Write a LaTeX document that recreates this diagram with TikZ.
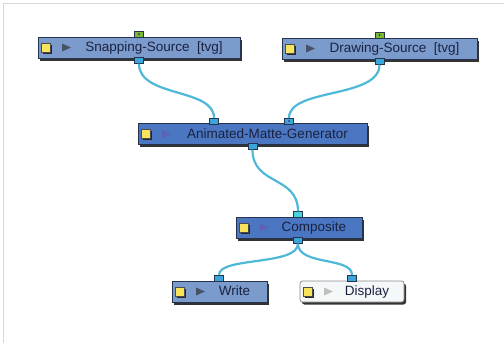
\documentclass[tikz,border=0pt]{standalone}
\usepackage{fontspec}
\setmainfont{Liberation Sans}
\usetikzlibrary{shadows}

\definecolor{liteblue}{HTML}{7B9BCC}
\definecolor{darkblue}{HTML}{4A76C2}
\definecolor{offwhite}{HTML}{F4F8F8}
\definecolor{boxedge}{HTML}{26334D}
\definecolor{textnavy}{HTML}{1B2240}
\definecolor{lampyellow}{HTML}{F8E45A}
\definecolor{portblue}{HTML}{3AA6DC}
\definecolor{portgreen}{HTML}{7AB833}
\definecolor{portcyan}{HTML}{46D4DC}
\definecolor{wireblue}{HTML}{4DB8D8}
\definecolor{frame}{HTML}{D8D8D8}

\begin{document}
\begin{tikzpicture}[
x=1pt, y=-1pt,
nodebox/.style={draw=boxedge, line width=0.8pt, minimum height=21pt, inner sep=0pt,
  font=\fontsize{13.5}{15}\selectfont, text=textnavy, text height=10.2pt, text depth=1.6pt,
  drop shadow={shadow xshift=2pt, shadow yshift=-2.5pt, fill=black!80, opacity=1},
  path picture={
    \begin{scope}[sharp corners]
    \fill[black!85] ([xshift=4.5pt,yshift=-6pt]path picture bounding box.west) rectangle ++(9pt,9pt);
    \filldraw[fill=lampyellow, draw=black!70, line width=0.4pt] ([xshift=3pt,yshift=-4.5pt]path picture bounding box.west) rectangle ++(9pt,9pt);
    \fill[#1] ([xshift=24pt,yshift=4pt]path picture bounding box.west) -- ++(9pt,-4pt) -- ++(-9pt,-4pt) -- cycle;
    \end{scope}
  }},
litebox/.style={nodebox=boxedge!85, fill=liteblue},
darkbox/.style={nodebox=boxedge!60!blue!70, fill=darkblue},
offbox/.style={nodebox=black!25, fill=offwhite, draw=black!45, rounded corners=2.5pt},
port/.style={draw=boxedge, fill=portblue, line width=0.6pt, minimum width=9pt, minimum height=6pt, inner sep=0pt},
gport/.style={port, fill=portgreen},
cport/.style={port, fill=portcyan},
dotport/.style={path picture={\fill[boxedge] (path picture bounding box.center) circle (0.9pt);}},
wire/.style={draw=wireblue, line width=2.2pt}
]
\useasboundingbox (0,0) rectangle (504,343);
\draw[frame, line width=1.8pt] (3.5,343) -- (3.5,3.5) -- (504,3.5);

% nodes
\node[litebox, minimum width=202pt] (snap) at (139,47.5) {\hspace*{30pt}Snapping-Source\ \ [tvg]};
\node[litebox, minimum width=195pt] (draw) at (379.5,48.5) {\hspace*{30pt}Drawing-Source\ \ [tvg]};
\node[darkbox, minimum width=229pt] (amg) at (252.5,134) {\hspace*{30pt}Animated-Matte-Generator};
\node[darkbox, minimum width=126pt] (comp) at (299,227.5) {\hspace*{30pt}Composite};
\node[litebox, minimum width=95pt] (write) at (219.5,291.5) {\hspace*{30pt}Write};
\node[offbox, minimum width=104pt] (disp) at (352,291.5) {\hspace*{30pt}Display};

% ports
\node[gport, dotport] (snaptop) at ([yshift=2.5pt]snap.north) {};
\node[port] (snapout) at ([yshift=-2pt]snap.south) {};
\node[gport, dotport] (drawtop) at ([yshift=2.5pt]draw.north) {};
\node[port] (drawout) at ([yshift=-2pt]draw.south) {};
\node[port] (amgl) at ([xshift=-38.5pt,yshift=2pt]amg.north) {};
\node[port, dotport] (amgr) at ([xshift=36.5pt,yshift=2pt]amg.north) {};
\node[port] (amgout) at ([yshift=-1.5pt]amg.south) {};
\node[cport] (compin) at ([xshift=-1pt,yshift=2pt]comp.north) {};
\node[port] (compout) at ([xshift=-1pt,yshift=-2pt]comp.south) {};
\node[port] (writein) at ([xshift=-0.5pt,yshift=2.5pt]write.north) {};
\node[port] (dispin) at ([yshift=2.5pt]disp.north) {};

% wires
\draw[wire] (snapout.south) .. controls +(0,34) and +(0,-30) .. (amgl.north);
\draw[wire] (drawout.south) .. controls +(0,34) and +(0,-30) .. (amgr.north);
\draw[wire] (amgout.south) .. controls +(0,36) and +(0,-36) .. (compin.north);
\draw[wire] (compout.south) .. controls +(0,22) and +(0,-18) .. (writein.north);
\draw[wire] (compout.south) .. controls +(0,22) and +(0,-18) .. (dispin.north);
\end{tikzpicture}
\end{document}
